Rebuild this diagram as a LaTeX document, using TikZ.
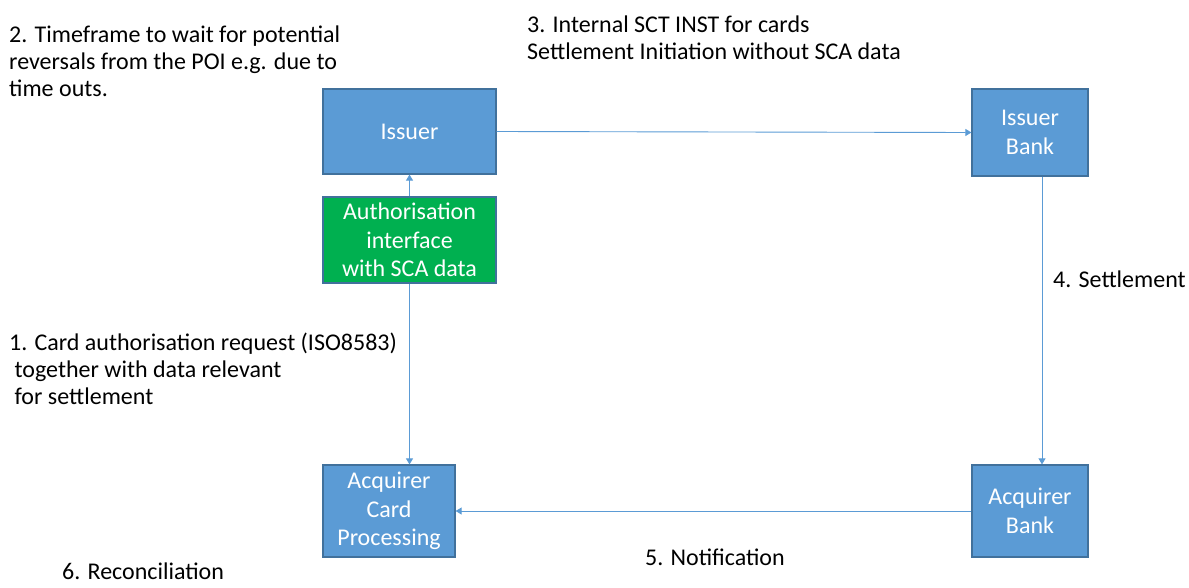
\documentclass[tikz,border=0pt]{standalone}
\usepackage{fontspec}
\setmainfont{Carlito}
\usetikzlibrary{arrows.meta}
\definecolor{boxblue}{HTML}{5B9BD5}
\definecolor{boxedge}{HTML}{41719C}
\definecolor{boxgreen}{HTML}{00B050}
\definecolor{linkblue}{HTML}{5B9BD5}
\tikzset{
  party/.style={draw=boxedge, line width=1.2pt, fill=boxblue, text=white,
    align=center, font=\fontsize{24}{28.5}\selectfont, inner sep=0pt},
  iface/.style={party, fill=boxgreen},
  note/.style={align=left, anchor=north west, inner sep=0pt,
    font=\fontsize{24}{27}\selectfont, text=black},
  link/.style={draw=linkblue, line width=0.9pt,
    -{Triangle[width=7pt,length=6pt]}}
}
\begin{document}
\begin{tikzpicture}[x=1pt,y=-1pt]
  \useasboundingbox (0,0) rectangle (1189,587);
  % participants
  \node[party, minimum width=173pt, minimum height=85pt] (issuer) at (409.5,131.5) {Issuer};
  \node[iface, minimum width=173pt, minimum height=86pt] (auth) at (409.5,240) {Authorisation\\interface\\with SCA data};
  \node[party, minimum width=116pt, minimum height=87pt] (ibank) at (1030,132.5) {Issuer\\Bank};
  \node[party, minimum width=132pt, minimum height=92pt] (acp) at (389,511) {Acquirer\\Card\\Processing};
  \node[party, minimum width=116pt, minimum height=92pt] (abank) at (1030,511) {Acquirer\\Bank};
  % message flows
  \draw[link] (auth.north) -- (issuer.south);
  \draw[link] (auth.south) -- (acp.north -| auth.south);
  \draw[link] (issuer.east) -- (ibank.west);
  \draw[link] (ibank.south -| 1042,0) -- (abank.north -| 1042,0);
  \draw[link] (abank.west) -- (acp.east);
  % step annotations
  \node[note] (n2) at (9,26) {2. Timeframe to wait for potential\\reversals from the POI e.g. due to\\time outs.};
  \node[note] (n3) at (527,16) {3. Internal SCT INST for cards\\Settlement Initiation without SCA data};
  \node[note] (n4) at (1053,271) {4. Settlement};
  \node[note] (n1) at (9,333) {1. Card authorisation request (ISO8583)\\\ together with data relevant\\\ for settlement};
  \node[note] (n5) at (645,549) {5. Notification};
  \node[note, text depth=0pt] (n6) at (62,563) {6. Reconciliation};
\end{tikzpicture}
\end{document}
